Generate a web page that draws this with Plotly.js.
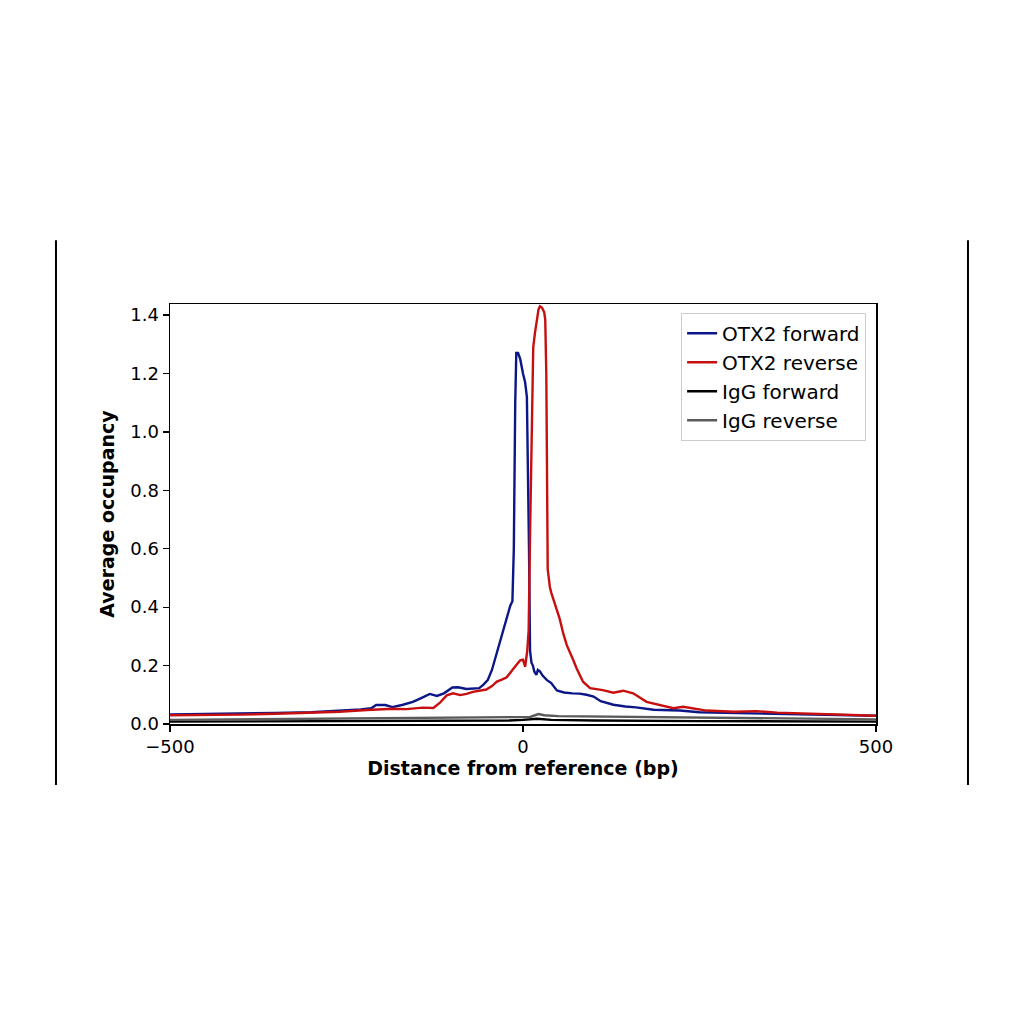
<!DOCTYPE html>
<html>
<head>
<meta charset="utf-8">
<script src="https://cdn.plot.ly/plotly-3.0.1.min.js"></script>
<style>
  html, body { margin: 0; padding: 0; background: #fff; }
  #plot { width: 1024px; height: 1024px; }
</style>
</head>
<body>
<div id="plot"></div>
<script>
// OTX2 forward strand
const fwdX = [-500, -450, -400, -350, -300, -260, -230, -215, -208, -195, -185, -170, -156, -145, -132, -122, -112, -100, -92, -80, -70, -62, -56, -50, -44, -37, -30, -23, -18, -15, -13, -11, -9.5, -7, -4, 0, 3, 5.5, 7, 8.5, 10, 12, 14, 16, 19, 21, 24, 28, 34, 40, 48, 58, 70, 80, 90, 100, 110, 128, 145, 160, 185, 222, 250, 300, 350, 400, 450, 500];
const fwdY = [0.033, 0.034, 0.036, 0.038, 0.040, 0.045, 0.050, 0.054, 0.065, 0.065, 0.058, 0.066, 0.076, 0.088, 0.103, 0.096, 0.105, 0.125, 0.126, 0.120, 0.122, 0.123, 0.135, 0.150, 0.185, 0.245, 0.300, 0.363, 0.405, 0.42, 0.60, 1.10, 1.27, 1.27, 1.25, 1.20, 1.17, 1.12, 0.90, 0.60, 0.25, 0.21, 0.20, 0.18, 0.168, 0.185, 0.18, 0.165, 0.15, 0.14, 0.115, 0.108, 0.105, 0.104, 0.100, 0.094, 0.078, 0.066, 0.060, 0.057, 0.049, 0.046, 0.040, 0.038, 0.035, 0.033, 0.030, 0.028];

// OTX2 reverse strand
const revX = [-500, -450, -400, -350, -300, -260, -221, -184, -165, -142, -127, -118, -108, -99, -89, -80, -71, -61, -52, -44, -37, -30, -23, -15, -8, -4, 0, 3, 6, 8, 10, 12, 13.5, 14.5, 17, 20, 22, 24, 27, 30, 31.5, 33, 34, 35, 38, 40, 48, 52, 57, 62, 71, 76, 85, 95, 113, 128, 142, 156, 175, 194, 213, 227, 241, 260, 298, 330, 360, 421, 460, 500];
const revY = [0.030, 0.030, 0.032, 0.035, 0.038, 0.042, 0.048, 0.052, 0.051, 0.056, 0.055, 0.072, 0.098, 0.105, 0.099, 0.103, 0.110, 0.115, 0.118, 0.130, 0.145, 0.152, 0.160, 0.185, 0.205, 0.218, 0.220, 0.196, 0.250, 0.320, 0.650, 1.000, 1.170, 1.290, 1.340, 1.380, 1.420, 1.430, 1.425, 1.410, 1.385, 1.200, 0.750, 0.530, 0.470, 0.450, 0.390, 0.360, 0.310, 0.270, 0.220, 0.190, 0.145, 0.123, 0.116, 0.107, 0.114, 0.105, 0.076, 0.065, 0.054, 0.059, 0.054, 0.046, 0.042, 0.044, 0.039, 0.034, 0.031, 0.028];

// IgG controls
const igfX = [-500, -250, -100, -20, 0, 20, 40, 100, 250, 500];
const igfY = [0.008, 0.009, 0.010, 0.012, 0.014, 0.018, 0.014, 0.012, 0.010, 0.008];
const igrX = [-500, -300, -150, -50, 0, 10, 22, 30, 50, 150, 300, 500];
const igrY = [0.014, 0.017, 0.020, 0.022, 0.022, 0.024, 0.034, 0.030, 0.027, 0.024, 0.020, 0.016];

const xTicks = [-500, 0, 500];
const yTicks = [0, 0.2, 0.4, 0.6, 0.8, 1.0, 1.2, 1.4];

const FONT = 'DejaVu Sans, sans-serif';

function line(x, y, name, color) {
  return {
    type: 'scatter', mode: 'lines', x: x, y: y, name: name,
    line: { color: color, width: 2.4 }
  };
}

const traces = [
  line(fwdX, fwdY, 'OTX2 forward', '#0b1687'),
  line(revX, revY, 'OTX2 reverse', '#c80f0f'),
  line(igfX, igfY, 'IgG forward', '#000000'),
  line(igrX, igrY, 'IgG reverse', '#5a5a5a')
];

const layout = {
  width: 1024, height: 1024,
  margin: { l: 170, r: 148, t: 304, b: 300 },
  paper_bgcolor: '#fff', plot_bgcolor: '#fff',
  font: { family: FONT, size: 18, color: '#000' },
  showlegend: true,
  legend: {
    x: 0.986, y: 0.979, xanchor: 'right', yanchor: 'top',
    bgcolor: '#fff', bordercolor: '#cccccc', borderwidth: 1,
    font: { family: FONT, size: 20, color: '#000' }
  },
  xaxis: {
    range: [-500, 500], tickvals: xTicks, ticktext: ['\u2212500', '0', '500'],
    ticks: 'outside', ticklen: 6, tickwidth: 1.3, tickcolor: '#000',
    showgrid: false, zeroline: false,
    showline: true, linecolor: '#000', linewidth: 1.5, mirror: true,
    title: { text: '<b>Distance from reference (bp)</b>', font: { family: FONT, size: 19 }, standoff: 2 }
  },
  yaxis: {
    range: [0, 1.438], tickvals: yTicks, tickformat: '.1f',
    ticks: 'outside', ticklen: 6, tickwidth: 1.3, tickcolor: '#000',
    showgrid: false, zeroline: false,
    showline: true, linecolor: '#000', linewidth: 1.5, mirror: true,
    title: { text: '<b>Average occupancy</b>', font: { family: FONT, size: 19 }, standoff: 10 }
  },
  shapes: [
    { type: 'line', xref: 'paper', yref: 'paper', x0: -0.1615, x1: -0.1615, y0: -0.145, y1: 1.152, line: { color: '#000', width: 2 } },
    { type: 'line', xref: 'paper', yref: 'paper', x0: 1.1303, x1: 1.1303, y0: -0.145, y1: 1.152, line: { color: '#000', width: 2 } }
  ]
};

Plotly.newPlot('plot', traces, layout, { displayModeBar: false, staticPlot: true });
</script>
</body>
</html>
